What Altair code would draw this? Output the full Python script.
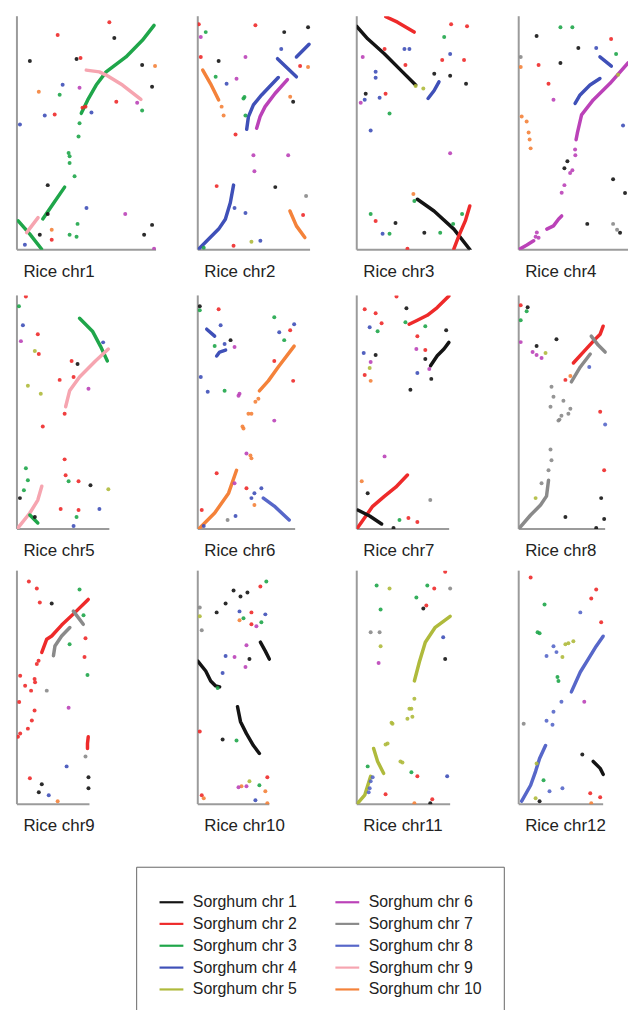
import altair as alt
import pandas as pd

SORGHUM_LABELS = ["Sorghum chr 1", "Sorghum chr 2", "Sorghum chr 3", "Sorghum chr 4", "Sorghum chr 5",
                  "Sorghum chr 6", "Sorghum chr 7", "Sorghum chr 8", "Sorghum chr 9", "Sorghum chr 10"]
SORGHUM_COLORS = ["#141414", "#ee2a2a", "#1fa64a", "#3f50b8", "#afba3c",
                  "#bb42b8", "#8a8a8a", "#5767c9", "#f6a5b0", "#f4823a"]
RICE_LABELS = ["Rice chr1", "Rice chr2", "Rice chr3", "Rice chr4", "Rice chr5", "Rice chr6",
               "Rice chr7", "Rice chr8", "Rice chr9", "Rice chr10", "Rice chr11", "Rice chr12"]
RICE_LENGTHS = [56, 45.2, 45.6, 44, 37.2, 39.2, 37.2, 34.8, 29.2, 28.8, 37.6, 34]
SORGHUM_SPAN = 94

# syntenic runs: (sorghum chr, [(rice position, sorghum position), ...])
CHR1_SEGMENTS = [
    (3, [(10.4, 12.4), (14.8, 18.8), (19.2, 25.2)]),
    (3, [(25.9, 54.9), (28.5, 60.3), (31.9, 66.3), (35.9, 71.6), (43.9, 77.6), (50.5, 84.3), (55.2, 90.3)]),
    (3, [(0.5, 11.6), (5.2, 6.3), (9.9, 0.3)]),
    (9, [(27.9, 72.3), (33.2, 71.6), (35.9, 70.3), (42.5, 66.3), (49.9, 60.5)]),
    (9, [(3.9, 6.9), (6.5, 10.3), (8.5, 12.9)]),
]
CHR1_DOTS = [
    (3, 25.2, 50.9), (3, 24.8, 45.6), (3, 20.8, 38.9), (3, 21.2, 37.6), (3, 21.2, 34.9), (3, 23.2, 29.6),
    (2, 37.2, 91.6), (1, 39.2, 85.2), (2, 16.4, 86.4), (1, 24, 76.8), (2, 25.6, 77.2), (1, 50.4, 74.4),
    (1, 5.2, 76), (10, 55.6, 74), (4, 18.4, 66.4), (1, 54.4, 65.6), (10, 8.8, 63.6), (6, 25.2, 65.2),
    (3, 17.2, 62.4), (4, 11.2, 54), (2, 15.2, 54.4), (4, 30, 55.2), (2, 40, 59.6), (6, 48.4, 59.2),
    (3, 50.4, 56), (4, 1.2, 50.4), (1, 12.4, 26), (4, 28, 16.8), (6, 43.6, 14.4), (3, 24.4, 10.4),
    (3, 24, 5.2), (1, 9.2, 6), (1, 51.2, 6), (1, 54.4, 10), (2, 14, 4), (1, 12.4, 14.4), (4, 3.2, 2),
    (3, 21.2, 6), (6, 55.2, 0.4), (10, 14, 8), (2, 26.4, 57.2), (2, 27.6, 57.6),
]

CHR2_SEGMENTS = [
    (4, [(0.4, 0.3), (4.4, 4.3), (8.4, 8.3), (11.1, 12.3), (13.1, 18.9), (14.4, 26)]),
    (4, [(19.7, 48.5), (20.4, 53.6), (22.4, 58.3), (25.7, 62.3), (32.4, 69.3)]),
    (4, [(32.1, 76.9), (39.7, 69.6)]),
    (4, [(39.7, 77.6), (44.8, 82.7)]),
    (6, [(23.7, 48.9), (25.1, 53.6), (27.1, 57.6), (31.1, 62.9), (36.1, 68.5)]),
    (10, [(2, 72.3), (5.1, 66.9), (8.4, 60.3)]),
    (10, [(37.1, 15.6), (39.7, 9.6), (43.1, 4.9)]),
]
CHR2_DOTS = [
    (3, 18.4, 60.9), (3, 18.8, 61.5), (2, 0.4, 90.8), (2, 23.2, 90.4), (1, 44.4, 89.6), (1, 34.8, 87.6),
    (3, 3.2, 87.6), (6, 1.2, 85.6), (4, 33.6, 80.8), (2, 1.2, 77.6), (1, 8.4, 76), (6, 19.2, 77.6),
    (3, 7.2, 69.6), (4, 11.6, 66.8), (6, 15.6, 68.8), (2, 41.2, 74), (10, 44.4, 73.6), (1, 38.4, 59.6),
    (10, 37.2, 61.6), (3, 19.2, 54), (10, 9.6, 57.6), (10, 10.4, 54), (2, 15.2, 46.4), (6, 22.4, 38),
    (6, 22.8, 31.6), (1, 31.2, 25.2), (2, 7.6, 25.6), (4, 19.2, 14.8), (4, 14.8, 16.8), (2, 42.4, 14),
    (4, 25.2, 3.6), (5, 21.6, 3.2), (2, 14.4, 1.6), (6, 36.4, 38), (7, 43.6, 21.6), (3, 2.4, 0.8),
]

CHR3_SEGMENTS = [
    (1, [(0, 89.9), (4.4, 84.9), (11.1, 78.9), (17.7, 72.3), (23.7, 66.3)]),
    (2, [(11.7, 93.8), (16.4, 91.6), (23.1, 87.6)]),
    (4, [(28.7, 60.9), (31.1, 64), (33.1, 67.6)]),
    (1, [(24.4, 20.3), (31.1, 15.6), (39.1, 8.3), (45.6, 0)]),
    (2, [(39.1, 0.3), (41.1, 5.6), (43.7, 11.6), (45.5, 17.6)]),
]
CHR3_DOTS = [
    (5, 23.7, 65.9), (5, 26.8, 64.9), (2, 38, 90.8), (2, 44.4, 90), (3, 35.2, 85.6), (2, 11.2, 80.8),
    (4, 19.2, 80.8), (4, 21.2, 80.8), (6, 2.4, 77.6), (4, 37.6, 78.8), (2, 43.2, 76.4), (2, 34.4, 76.4),
    (2, 19.6, 74.4), (4, 7.6, 71.6), (1, 31.2, 70.8), (1, 37.6, 70), (4, 7.6, 69.2), (1, 44, 66.8),
    (2, 11.6, 62.8), (1, 3.6, 62.8), (6, 1.6, 59.2), (4, 3.2, 60.4), (4, 9.2, 61.2), (3, 13.2, 54.8),
    (4, 5.6, 48), (6, 37.6, 38.8), (3, 5.6, 14.4), (3, 23.2, 19.6), (2, 7.6, 11.6), (1, 15.6, 10.8),
    (3, 42.4, 14.4), (4, 10.4, 6.4), (3, 13.2, 6.4), (1, 27.2, 6.8), (3, 33.6, 6.8), (10, 22.8, 22.4),
    (2, 20.4, 0.4), (3, 38.8, 10.4),
]

CHR4_SEGMENTS = [
    (6, [(0, 0), (3.3, 1.9), (6, 3.6)]),
    (6, [(11.3, 8.3), (14, 9.6), (16, 12.3), (17.3, 13.6)]),
    (6, [(23.1, 44.3), (23.6, 46.9), (25.3, 54.3), (30, 60.3), (36.7, 66.9), (44, 75.2)]),
    (4, [(22.7, 58.9), (24.7, 62.3), (28.7, 66.3), (32.7, 68.9)]),
    (4, [(32.7, 77.6), (37.3, 73.9)]),
]
CHR4_DOTS = [
    (6, 7.3, 6.9), (6, 6.8, 5.2), (6, 8, 4.8), (6, 17.3, 22.9), (6, 18.4, 26), (6, 20.7, 30.9),
    (6, 21.6, 32), (6, 22.7, 40.3), (6, 22.8, 38), (10, 1.2, 53.6), (10, 3.2, 51.6), (10, 4.4, 44.4),
    (10, 4.8, 40.8), (10, 4, 47.2), (1, 7.2, 86), (3, 16.8, 89.6), (3, 21.6, 89.6), (2, 37.2, 84.8),
    (1, 24, 81.2), (4, 31.2, 81.2), (3, 39.2, 78.8), (1, 16.8, 75.2), (2, 8, 74.4), (10, 0.8, 73.6),
    (2, 12, 66.8), (6, 14, 60.4), (4, 42, 50), (1, 19.6, 35.6), (1, 18.4, 32.8), (1, 38, 28.4),
    (1, 42.8, 22.8), (1, 27.6, 10.4), (7, 38, 10.4), (7, 39.6, 8), (1, 40.8, 6.8), (5, 40, 70.4),
    (7, 0.8, 77.6),
]

CHR5_SEGMENTS = [
    (3, [(25.2, 84.8), (30.4, 79.6), (33.6, 73.6), (36.4, 67.6)]),
    (9, [(19.6, 49.2), (21.2, 55.6), (25.2, 61.2), (31.6, 67.6), (36.8, 72.4)]),
    (9, [(0.4, 0.4), (5.2, 6.4), (8.4, 11.6), (10, 17.2)]),
    (3, [(5.2, 5.6), (8.4, 2.4)]),
]
CHR5_DOTS = [
    (3, 3.6, 24.4), (3, 4.4, 19.6), (3, 2.8, 15.6), (2, 3.6, 93.6), (3, 0.8, 89.6), (4, 2.4, 82),
    (2, 8.4, 78.4), (6, 1.6, 75.6), (5, 7.2, 71.6), (2, 8.8, 70.4), (2, 22, 67.6), (1, 24.4, 66.4),
    (2, 22.8, 61.2), (6, 28.8, 56.4), (5, 4.4, 57.6), (5, 9.6, 54.4), (2, 17.2, 60), (2, 19.2, 46.4),
    (2, 10.4, 41.2), (2, 19.2, 28), (2, 19.6, 21.6), (3, 20.8, 19.2), (1, 29.6, 17.6), (2, 24.8, 19.2),
    (5, 36.8, 16), (4, 33.2, 8), (2, 24.8, 7.6), (3, 24, 4.8), (4, 22.8, 1.2), (1, 1.2, 12.4),
    (1, 7.2, 4.8), (2, 17.6, 8), (4, 34.7, 75.1),
]

CHR6_SEGMENTS = [
    (10, [(24.8, 55.6), (28.4, 59.6), (32.4, 65.2), (38.8, 73.6)]),
    (10, [(0.4, 0), (6.8, 6.4), (12.4, 14.4), (15.6, 23.6)]),
    (4, [(3.6, 80.4), (6.8, 77.6)]),
    (4, [(7.6, 69.6), (8.8, 71.2), (11.2, 72)]),
    (8, [(26.4, 12.4), (30.8, 9.2), (36.8, 3.6)]),
]
CHR6_DOTS = [
    (10, 24.4, 52.4), (10, 23.2, 51.2), (10, 20.4, 46.4), (10, 21.6, 46.4), (10, 18.4, 40.4),
    (10, 18, 41.2), (10, 21.6, 28.4), (10, 21.2, 29.6), (6, 16.4, 53.6), (6, 16.8, 54.4), (6, 19.6, 30.4),
    (1, 0.8, 89.6), (3, 0.8, 88), (2, 8.4, 88.4), (3, 30.8, 85.2), (4, 38.8, 82.4), (4, 9.2, 82),
    (2, 37.2, 80), (4, 32.8, 79.2), (3, 34.8, 76), (1, 13.2, 76), (6, 14.8, 73.2), (4, 10.8, 74.4),
    (3, 6.8, 73.6), (2, 30.8, 67.6), (2, 38.4, 59.6), (4, 1.2, 61.2), (4, 4, 55.2), (3, 10.8, 55.6),
    (6, 30.8, 43.6), (2, 7.6, 22.4), (6, 14.8, 18.4), (4, 22.8, 14.4), (4, 25.6, 16.4), (2, 19.6, 16.4),
    (4, 21.6, 12.4), (2, 1.6, 7.6), (7, 12, 3.6), (4, 15.2, 5.2), (4, 2.4, 1.2), (10, 22.8, 9.6),
]

CHR7_SEGMENTS = [
    (2, [(21.1, 82.4), (24.4, 84), (28.4, 86), (32.4, 89.1), (37.1, 93.8)]),
    (1, [(29.7, 65.7), (32.4, 69.7), (35.1, 72.4), (37.1, 75.1)]),
    (2, [(0, 0), (3.1, 4.4), (6.4, 9.1), (11.1, 13.1), (15.7, 16.8), (20.4, 21.7)]),
    (1, [(0.4, 7.6), (5.2, 5.2), (10, 2)]),
]
CHR7_DOTS = [
    (2, 16, 93.6), (2, 3.2, 88.4), (2, 7.6, 86.8), (1, 20, 88.8), (3, 19.6, 83.2), (2, 10, 82.8),
    (4, 5.2, 81.2), (3, 8.4, 79.6), (3, 27.6, 81.6), (1, 36, 80), (2, 24.4, 77.6), (6, 24, 72.4),
    (4, 2.8, 70.8), (1, 7.6, 70), (2, 27.6, 72), (1, 27.6, 68.4), (6, 5.6, 67.2), (5, 5.2, 64.8),
    (6, 29.2, 64.4), (4, 24.4, 62.8), (2, 3.2, 62), (10, 5.6, 59.6), (1, 30, 60.4), (1, 21.6, 56),
    (6, 11.2, 29.2), (10, 2, 19.2), (1, 4.4, 14.4), (3, 17.2, 3.6), (2, 20.8, 4.4), (2, 24.4, 2.8),
    (1, 14.8, 0.4), (7, 29.6, 11.6),
]

CHR8_SEGMENTS = [
    (2, [(22, 66.8), (26, 71.2), (30.8, 76.4), (32.8, 78.4), (34, 81.6)]),
    (7, [(21.2, 59.2), (24.8, 65.2), (28.8, 70.4)]),
    (7, [(29.2, 77.6), (32, 74), (34.8, 71.2)]),
    (7, [(0, 0), (4.8, 5.6), (8.8, 9.6), (11.2, 13.2), (12, 19.6)]),
]
CHR8_DOTS = [
    (7, 12.8, 32), (7, 13.2, 27.6), (7, 12, 23.6), (7, 16, 43.6), (7, 17.2, 45.6), (7, 20, 46.4),
    (7, 20.8, 48.4), (7, 12.8, 49.2), (7, 14, 53.2), (7, 18, 51.6), (7, 13.2, 57.2), (7, 9.2, 18.4),
    (7, 16.4, 44), (2, 0.8, 90), (1, 3.6, 89.2), (3, 3.2, 87.6), (3, 0.8, 84), (1, 15.2, 76.4),
    (6, 0.8, 75.2), (6, 5.6, 71.2), (6, 7.2, 70), (6, 9.2, 68.8), (1, 7.2, 73.6), (5, 10.8, 70.8),
    (8, 28.4, 65.2), (10, 20.8, 61.6), (2, 18.8, 60), (2, 32.8, 47.2), (8, 34.8, 42), (2, 34.4, 23.6),
    (1, 33.2, 12.4), (5, 6.8, 12.4), (1, 18.8, 4.8), (1, 34.4, 4), (1, 31.2, 0.4),
]

CHR9_SEGMENTS = [
    (2, [(28.7, 82.4), (23.3, 77.1), (18, 72.1), (14, 67.7), (12, 66.4), (10, 61.1)]),
    (2, [(28.7, 27.1), (28.4, 24.4), (28.4, 22.4)]),
    (7, [(22.7, 77.7), (24.7, 75.1), (26.7, 72.4)]),
    (7, [(21.3, 71.1), (18, 67.7), (15.3, 63.7), (14.7, 59.7)]),
]
CHR9_DOTS = [
    (2, 8.7, 57.7), (2, 8, 56.4), (2, 7.3, 49.1), (2, 7.1, 50.4), (2, 5.7, 45.7), (2, 3.3, 47.7),
    (2, 1.3, 51.7), (2, 0.9, 41.1), (2, 7.1, 37.7), (2, 6, 33.7), (2, 4.4, 30.4), (2, 1.3, 28.4),
    (2, 0.4, 27.1), (7, 12, 45.7), (2, 4.8, 89.6), (2, 8, 86.8), (3, 25.2, 86.4), (2, 9.2, 81.2),
    (1, 14, 80.8), (3, 26.8, 76), (2, 27.6, 66.8), (3, 21.2, 64.4), (2, 27.2, 59.2), (3, 28.4, 52),
    (6, 20.8, 38.8), (7, 27.6, 19.2), (4, 20, 15.2), (2, 5.2, 10.4), (1, 10, 8), (1, 8.8, 4.8),
    (4, 12.8, 3.6), (1, 28.8, 10.8), (1, 28.8, 6.4), (10, 16.4, 1.2),
]

CHR10_SEGMENTS = [
    (1, [(0, 57.6), (3.2, 53.6), (5.2, 49.6), (7.2, 47.6), (8.8, 47.2)]),
    (1, [(25.2, 65.2), (27.2, 61.6), (28.8, 58.4)]),
    (1, [(16, 39.2), (17.2, 33.2), (19.6, 28.4), (22.4, 23.6), (24.8, 20.4)]),
]
CHR10_DOTS = [
    (3, 27.6, 89.6), (1, 20, 85.2), (1, 14.4, 86), (1, 17.2, 83.6), (2, 25.2, 87.6), (1, 11.2, 80.8),
    (1, 7.6, 77.2), (7, 0.8, 79.2), (5, 0.8, 75.6), (4, 16.8, 77.6), (4, 27.2, 76.4), (2, 21.6, 77.2),
    (3, 18.4, 74.8), (10, 16.8, 74), (2, 21.6, 72.4), (6, 23.6, 71.6), (3, 25.6, 73.2), (7, 1.6, 70),
    (6, 19.6, 64), (4, 11.2, 59.6), (6, 14.8, 59.2), (1, 20.8, 58.4), (6, 19.2, 55.2), (4, 10, 52.8),
    (3, 8, 46.8), (2, 0.8, 29.2), (3, 15.6, 25.6), (1, 10, 26), (5, 20.8, 9.2), (3, 24.8, 7.6),
    (6, 19.6, 7.2), (10, 17.6, 7.2), (6, 16.4, 6.8), (10, 27.2, 5.2), (2, 28, 10.8), (4, 23.2, 1.6),
    (10, 28, 0.4), (2, 1.6, 3.6), (10, 2.4, 2.4),
]

CHR11_SEGMENTS = [
    (5, [(37.6, 75.6), (31.6, 71.2), (27.6, 65.2), (25.2, 57.2), (23.2, 49.6)]),
    (5, [(6.8, 22.4), (8.4, 17.2), (10.8, 12.4)]),
    (5, [(0.4, 0.4), (3.2, 3.6), (5.6, 11.2)]),
]
CHR11_DOTS = [
    (5, 23.2, 42.4), (5, 21.2, 38.4), (5, 22, 38.4), (5, 20.4, 34.4), (5, 22.4, 35.2), (5, 14.4, 32.4),
    (5, 14, 32.8), (5, 12.4, 24.4), (5, 11.6, 24), (5, 17.6, 17.2), (5, 18.4, 16.8), (8, 5.2, 6.4),
    (8, 5.6, 9.2), (8, 6.4, 10.8), (8, 4.8, 4.8), (2, 35.6, 93.6), (3, 8, 88), (5, 13.2, 86.8),
    (3, 28.4, 88), (2, 31.2, 86.8), (7, 37.6, 86.8), (3, 24, 83.2), (2, 28, 80), (1, 26.8, 78.8),
    (3, 9.6, 78.4), (7, 5.6, 69.2), (7, 9.2, 69.2), (4, 34.8, 67.2), (5, 9.6, 63.6), (1, 35.6, 58.4),
    (6, 8.8, 56.8), (3, 4.4, 15.2), (3, 22, 12.8), (2, 24.4, 11.2), (4, 36.4, 11.2), (2, 11.6, 4),
    (10, 23.2, 0.4), (2, 30.4, 2), (1, 29.6, 0.4),
]

CHR12_SEGMENTS = [
    (8, [(21.2, 45.2), (24.8, 53.2), (28, 58.4), (31.2, 63.6), (34, 67.6)]),
    (8, [(1.2, 1.2), (4.8, 7.6), (6.8, 13.2), (8.4, 18.4), (10.8, 23.6)]),
    (1, [(30, 17.2), (32.8, 14.4), (34, 12)]),
]
CHR12_DOTS = [
    (1, 25.6, 20), (5, 18.8, 64.4), (5, 20, 64.8), (5, 22, 65.6), (5, 17.6, 59.2), (3, 7.6, 69.2),
    (3, 8.4, 68.8), (3, 16, 49.6), (3, 15.6, 51.2), (3, 10.4, 80.4), (2, 4.8, 91.2), (2, 31.2, 86.4),
    (2, 29.2, 82.8), (8, 24.8, 77.2), (2, 33.2, 73.2), (8, 11.2, 59.6), (8, 15.2, 61.2), (8, 14, 63.6),
    (8, 17.2, 41.2), (6, 26.4, 41.2), (8, 14, 37.2), (8, 11.2, 33.6), (8, 13.6, 32), (7, 2, 32.4),
    (5, 7.2, 16.4), (3, 10, 9.6), (8, 12.4, 5.2), (8, 17.6, 6.4), (1, 8.4, 1.2), (2, 28.8, 4.4),
    (10, 29.2, 0.4), (2, 32.8, 2.8), (5, 6.8, 2.4),
]

PANELS = [
    (CHR1_SEGMENTS, CHR1_DOTS), (CHR2_SEGMENTS, CHR2_DOTS), (CHR3_SEGMENTS, CHR3_DOTS),
    (CHR4_SEGMENTS, CHR4_DOTS), (CHR5_SEGMENTS, CHR5_DOTS), (CHR6_SEGMENTS, CHR6_DOTS),
    (CHR7_SEGMENTS, CHR7_DOTS), (CHR8_SEGMENTS, CHR8_DOTS), (CHR9_SEGMENTS, CHR9_DOTS),
    (CHR10_SEGMENTS, CHR10_DOTS), (CHR11_SEGMENTS, CHR11_DOTS), (CHR12_SEGMENTS, CHR12_DOTS),
]

# layout (not data)
COL_DOMAIN = [72.8, 64, 65.2, 44]
COL_WIDTH = [182, 160, 163, 110]
PANEL_HEIGHT = 235
FONT = "Liberation Sans"

color_scale = alt.Scale(domain=SORGHUM_LABELS, range=SORGHUM_COLORS)


def panel(i):
    segs, dots = PANELS[i]
    seg_rows = []
    for k, (c, pts) in enumerate(segs):
        for j, (x, y) in enumerate(pts):
            seg_rows.append({"seg": k, "ord": j, "chr": SORGHUM_LABELS[c - 1], "x": x, "y": y})
    dot_rows = [{"chr": SORGHUM_LABELS[c - 1], "x": x, "y": y} for c, x, y in dots]
    axis_rows = [
        {"x": 0, "x2": RICE_LENGTHS[i], "y": 0, "y2": 0},
        {"x": 0, "x2": 0, "y": 0, "y2": SORGHUM_SPAN},
    ]
    col = i % 4
    xs = alt.Scale(domain=[0, COL_DOMAIN[col]], nice=False, zero=True)
    ys = alt.Scale(domain=[0, SORGHUM_SPAN], nice=False, zero=True)
    xaxis = alt.Axis(title=RICE_LABELS[i], labels=False, ticks=False, domain=False, grid=False,
                     titleAnchor="start", titleAlign="left", titleX=6, titleY=22,
                     titleBaseline="middle", titleFont=FONT, titleFontSize=17,
                     titleFontWeight="normal", titleColor="#222222")
    axes = alt.Chart(pd.DataFrame(axis_rows)).mark_rule(color="#9b9b9b", strokeWidth=2).encode(
        x=alt.X("x:Q", scale=xs, axis=xaxis), x2="x2:Q",
        y=alt.Y("y:Q", scale=ys, axis=None), y2="y2:Q")
    lines = alt.Chart(pd.DataFrame(seg_rows)).mark_line(
        strokeWidth=3.5, strokeCap="round", strokeJoin="round", clip=True).encode(
        x=alt.X("x:Q", scale=xs, axis=xaxis),
        y=alt.Y("y:Q", scale=ys, axis=None),
        color=alt.Color("chr:N", scale=color_scale,
                        legend=alt.Legend(title=None, symbolType="stroke")),
        detail="seg:N", order="ord:Q")
    points = alt.Chart(pd.DataFrame(dot_rows)).mark_circle(size=16, opacity=0.9, clip=True).encode(
        x=alt.X("x:Q", scale=xs, axis=xaxis),
        y=alt.Y("y:Q", scale=ys, axis=None),
        color=alt.Color("chr:N", scale=color_scale, legend=None))
    return alt.layer(axes, lines, points).properties(width=COL_WIDTH[col], height=PANEL_HEIGHT)


rows = [alt.hconcat(*[panel(r * 4 + c) for c in range(4)], spacing=0, bounds="flush") for r in range(3)]
top = alt.vconcat(rows[0], rows[1], spacing=15)
chart = alt.vconcat(top, rows[2], spacing=11).properties(
    padding={"left": 8, "top": 4, "right": 0, "bottom": 0}
).configure_view(stroke=None).configure_legend(
    orient="none", legendX=120, legendY=856, columns=2, symbolType="stroke",
    symbolSize=576, symbolStrokeWidth=2.2, labelFont=FONT, labelFontSize=16,
    labelColor="#222222", labelOffset=8, rowPadding=0, columnPadding=34,
    padding=22, strokeColor="#666666", strokeWidth=1, fillColor="white", labelLimit=300
)

chart.save("out.html", embed_options={"renderer": "svg", "actions": False})
